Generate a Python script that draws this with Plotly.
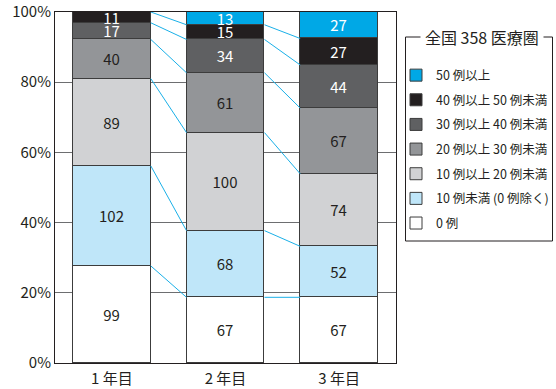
import plotly.graph_objects as go

# ---- data ----
years = ["1 年目", "2 年目", "3 年目"]
categories = ["0 例", "10 例未満 (0 例除く)", "10 例以上 20 例未満", "20 例以上 30 例未満",
              "30 例以上 40 例未満", "40 例以上 50 例未満", "50 例以上"]
counts_0 = [99, 67, 67]
counts_lt10 = [102, 68, 52]
counts_10_20 = [89, 100, 74]
counts_20_30 = [40, 61, 67]
counts_30_40 = [17, 34, 44]
counts_40_50 = [11, 15, 27]
counts_50 = [0, 13, 27]
total_title = "全国 358 医療圏"
y_ticks = [0, 20, 40, 60, 80, 100]
y_tick_labels = ["0%", "20%", "40%", "60%", "80%", "100%"]

series = [counts_0, counts_lt10, counts_10_20, counts_20_30, counts_30_40, counts_40_50, counts_50]
fills = ["#ffffff", "#bfe6f9", "#d1d2d4", "#939598", "#5f6062", "#231f20", "#00a8e6"]
txtcol = ["#231f20", "#231f20", "#231f20", "#231f20", "#ffffff", "#ffffff", "#ffffff"]

FONT = "Noto Sans CJK JP"
DARK = "#231f20"
BAR_W = 0.686

totals = [sum(s[i] for s in series) for i in range(len(years))]
pct = [[s[i] / totals[i] * 100 for i in range(len(years))] for s in series]
xs = list(range(len(years)))

fig = go.Figure()

# connectors between cumulative boundaries
cx, cy = [], []
cum = [[0.0] * len(years)]
for p in pct:
    cum.append([cum[-1][i] + p[i] for i in range(len(years))])
for k in range(1, len(series)):
    for i in range(len(years) - 1):
        cx += [xs[i] + BAR_W / 2, xs[i + 1] - BAR_W / 2, None]
        cy += [cum[k][i], cum[k][i + 1], None]
fig.add_trace(go.Scatter(x=cx, y=cy, mode="lines", line=dict(color="#1ab0e8", width=1),
                         showlegend=False, hoverinfo="skip"))

n = len(series)
for idx, (name, s, p, fc, tc) in enumerate(zip(categories, series, pct, fills, txtcol)):
    fig.add_trace(go.Bar(
        x=xs, y=p, name=name, width=BAR_W,
        marker=dict(color=fc, line=dict(color="#3c3c3c", width=1)),
        text=[str(v) if v > 0 else "" for v in s],
        textposition="inside", insidetextanchor="middle", textangle=0,
        constraintext="none",
        textfont=dict(color=tc, size=15, family=FONT),
        cliponaxis=False, hoverinfo="skip", legendgroup=name,
        legendrank=n - idx,
    ))

L, R, T, B = 55, 160, 12, 26
W, H = 556, 389
pw, ph = W - L - R, H - T - B


def px_x(x):
    return (x - L) / pw


def px_y(y):
    return (H - B - y) / ph


fig.update_layout(
    width=W, height=H, margin=dict(l=L, r=R, t=T, b=B, autoexpand=False),
    barmode="stack", bargap=0,
    paper_bgcolor="white", plot_bgcolor="white",
    font=dict(family=FONT, color=DARK, size=15),
    showlegend=True,
    legend=dict(
        x=px_x(396), xanchor="left", y=px_y(60.5), yanchor="top",
        traceorder="grouped", tracegroupgap=5.4,
        font=dict(family=FONT, size=12.5, color=DARK),
        bgcolor="rgba(0,0,0,0)", borderwidth=0,
    ),
    xaxis=dict(
        tickmode="array", tickvals=xs, ticktext=years, range=[-0.5, len(years) - 0.5],
        showgrid=False, showline=True, mirror=True, linecolor=DARK, linewidth=1,
        ticks="", zeroline=False, tickfont=dict(size=15), ticklabelstandoff=2,
    ),
    yaxis=dict(
        range=[0, 100.001], tickmode="array", tickvals=y_ticks, ticktext=y_tick_labels,
        showgrid=True, gridcolor="#6d6e70", gridwidth=1,
        showline=True, mirror=True, linecolor=DARK, linewidth=1,
        ticks="", zeroline=False, tickfont=dict(size=15),
    ),
    shapes=[dict(type="rect", xref="paper", yref="paper",
                 x0=px_x(405.5), x1=px_x(552.5), y0=px_y(241), y1=px_y(37),
                 line=dict(color=DARK, width=1), fillcolor="rgba(0,0,0,0)", layer="above")],
    annotations=[dict(text=total_title, xref="paper", yref="paper",
                      x=px_x(482), y=px_y(37), xanchor="center", yanchor="middle",
                      showarrow=False, bgcolor="white", borderpad=4,
                      font=dict(family=FONT, size=16, color=DARK))],
)

fig.write_html("out.html")
